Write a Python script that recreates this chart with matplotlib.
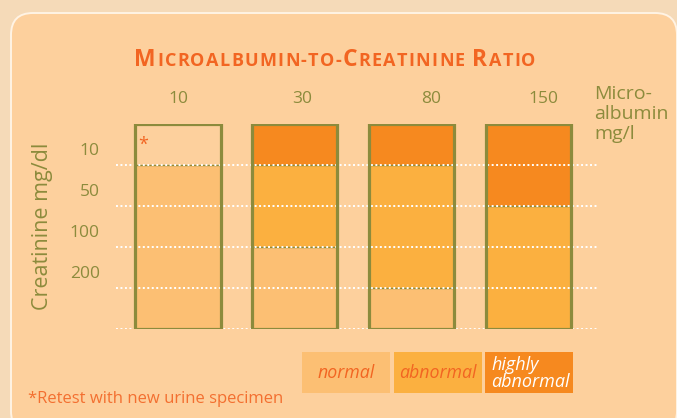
import numpy as np
import matplotlib.pyplot as plt
from matplotlib.patches import FancyBboxPatch, Rectangle

albumin = ['10', '30', '80', '150']
creatinine = ['10', '50', '100', '200']
# 0 = blank, 1 = normal, 2 = abnormal, 3 = highly abnormal (rows top to bottom)
levels = [
    [0, 1, 1, 1, 1],
    [3, 2, 2, 1, 1],
    [3, 2, 2, 2, 1],
    [3, 3, 2, 2, 2],
]
legend_labels = ['normal', 'abnormal', 'highly\nabnormal']
title_text = 'Microalbumin-to-Creatinine Ratio'

panel_c = '#FDD09D'
level_colors = [panel_c, '#FCBF73', '#FBB040', '#F6891F']
olive = '#8C8B3C'
red = '#F26522'

plt.rcParams['font.family'] = ['Open Sans', 'DejaVu Sans']

W, H = 677, 418
fig = plt.figure(figsize=(W / 100, H / 100), dpi=100)
fig.patch.set_facecolor('#F5DAB8')

bg = fig.add_axes([0, 0, 1, 1])
bg.set_xlim(0, W)
bg.set_ylim(H, 0)
bg.axis('off')
bg.add_patch(FancyBboxPatch((11, 13), 666, 420,
                            boxstyle='round,pad=0,rounding_size=22',
                            fc=panel_c, ec='#FFF3E4', lw=1.4))

# title in small caps with a bit of tracking, one letter at a time
fig.canvas.draw()
r = fig.canvas.get_renderer()
pieces = []
x = 0
track = 1.3
for ch in title_text:
    if ch == ' ':
        x += 6
        continue
    big = ch.isupper()
    t = bg.text(x, 66, ch.upper(), fontsize=16.5 if big else 13,
                fontweight='bold', color=red, va='baseline', ha='left')
    pieces.append((t, x))
    x += t.get_window_extent(r).width + track
x -= track
off = 335 - x / 2
for t, x0 in pieces:
    t.set_x(x0 + off)

# grid axes
ax = fig.add_axes([116 / W, 1 - 329 / H, (597 - 116) / W, (329 - 124) / H])
ax.set_xlim(-0.531, 3.59)
ax.set_ylim(5, 0)
ax.axis('off')
ax.patch.set_alpha(0)

bw = 0.73
nrows = len(levels[0])
for i, col in enumerate(levels):
    ax.bar([i] * nrows, [1] * nrows, bottom=np.arange(nrows), width=bw,
           color=[level_colors[v] for v in col], linewidth=0, zorder=1)
    for j in range(1, nrows):
        if col[j] != col[j - 1]:
            ax.hlines(j, i - bw / 2, i + bw / 2, color=olive, lw=1.0, zorder=2)
    ax.add_patch(Rectangle((i - bw / 2, 0), bw, nrows, fill=False,
                           ec=olive, lw=2.3, zorder=4))

for y in range(1, nrows + 1):
    ax.axhline(y, color='white', ls=(0, (1, 1.3)), lw=1.4, zorder=3)

for j, lab in enumerate(creatinine):
    ax.text(-0.67, j + 0.66, lab, ha='right', va='center', fontsize=12.5,
            color=olive)

ax.text(-0.295, 0.5, '*', ha='center', va='center', fontsize=13, color=red,
        zorder=5)

# column headings sit a little right of the columns in the original
for lab, xp in zip(albumin, [178, 302, 431, 543]):
    bg.text(xp, 99, lab, ha='center', va='center', fontsize=12.5, color=olive)

bg.text(43, 226, 'Creatinine mg/dl', rotation=90, ha='center', va='center',
        fontsize=15.5, color=olive)
bg.text(594, 85, 'Micro-\nalbumin\nmg/l', ha='left', va='top', fontsize=14,
        color=olive, linespacing=1.15)

# legend
lx, lstep = 302, 91.5
for k, lab in enumerate(legend_labels):
    x0 = lx + k * lstep
    bg.add_patch(Rectangle((x0, 352), 88, 41, fc=level_colors[k + 1], lw=0))
    if k < 2:
        bg.text(x0 + 44, 373, lab, ha='center', va='center', fontsize=12.8,
                style='italic', color=red)
    else:
        bg.text(x0 + 6, 373.5, lab, ha='left', va='center', fontsize=13,
                style='italic', color='white', linespacing=0.92)

bg.text(28, 399, '*Retest with new urine specimen', ha='left', va='center',
        fontsize=12, color='#F36F30')

fig.savefig('out.png', dpi=100, facecolor=fig.get_facecolor())
